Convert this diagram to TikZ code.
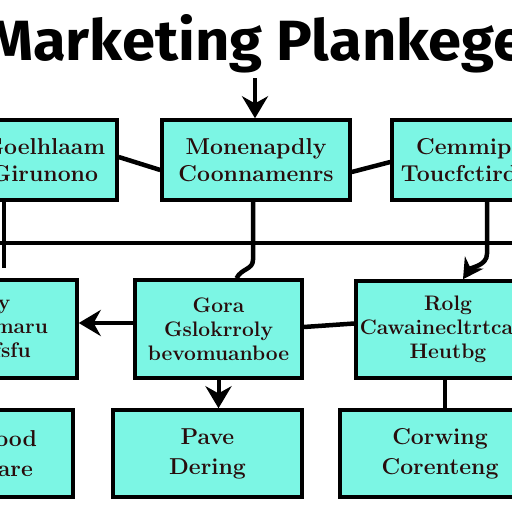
\documentclass[tikz,border=0pt]{standalone}
\usepackage{fontspec}
\usepackage{graphicx}
\newfontfamily\titlefont{Fira Sans}
\usetikzlibrary{arrows.meta}
\definecolor{boxfill}{RGB}{124,246,228}
\definecolor{ink}{RGB}{40,12,12}

\begin{document}
\begin{tikzpicture}[x=1pt,y=-1pt,
  box/.style={draw=black,line width=3.5pt,fill=boxfill,text=ink,align=center,inner sep=0pt,font=\bfseries\fontsize{23}{27}\selectfont},
  link/.style={line width=4.5pt},
  arr/.style={line width=4pt,-{Stealth[length=22pt,width=26pt]}}]
\useasboundingbox (0,0) rectangle (512,512);
\fill[white] (0,0) rectangle (512,512);
\clip (0,0) rectangle (512,512);

\node[anchor=base west,inner sep=0pt] (title) at (-14,60) {\resizebox{540pt}{46pt}{\titlefont\bfseries Marketing Plankege}};

\node[box,minimum width=145pt,minimum height=80pt] (goal) at (44.5,160) {Goelhlaam\\Girunono};
\node[box,minimum width=188pt,minimum height=80pt] (mone) at (256,160) {Monenapdly\\Coonnamenrs};
\node[box,minimum width=158pt,minimum height=80pt] (cemm) at (471,160) {Cemmipp\\Toucfctirdvt};

\node[box,minimum width=146pt,minimum height=98pt,font=\bfseries\fontsize{21}{24}\selectfont] (farm) at (4,329) {y\\Farmaru\\fsfsfu};
\node[box,minimum width=167pt,minimum height=98pt,font=\bfseries\fontsize{21}{24}\selectfont] (gora) at (218.5,329) {Gora\\Gslokrroly\\bevomuanboe};
\node[box,minimum width=184pt,minimum height=97pt,font=\bfseries\fontsize{21}{24}\selectfont] (rolg) at (448,329.5) {Rolg\\Cawainecltrtcaoc\\Heutbg};

\node[box,minimum width=134pt,minimum height=87pt,font=\bfseries\fontsize{23}{30}\selectfont] (good) at (6,453.5) {Good\\Care};
\node[box,minimum width=189pt,minimum height=87pt,font=\bfseries\fontsize{23}{30}\selectfont] (pave) at (207.5,453.5) {Pave\\Dering};
\node[box,minimum width=200pt,minimum height=87pt,font=\bfseries\fontsize{23}{30}\selectfont] (corw) at (440,453.5) {Corwing\\Corenteng};

\coordinate (top) at (255,78);
\draw[arr] (top) -- (mone.north -| top);

\draw[link] ([yshift=3pt]goal.east) -- ([yshift=-10pt]mone.west);
\draw[link] ([yshift=-12pt]mone.east) -- ([yshift=-2pt]cemm.west);

\coordinate (hl) at (-5,243);
\coordinate (hr) at (517,243);
\coordinate (aend) at (4,268);
\draw[link] (hl) -- (hr);
\draw[link] (goal.south -| aend) -- (aend);
\draw[link] ([xshift=-3pt]mone.south) -- ++(0,58) .. controls +(0,10) and +(5,-10) .. ([xshift=18pt]gora.north);
\draw[link,-{Stealth[length=20pt,width=22pt]}] ([xshift=16pt]cemm.south) -- ++(0,52) .. controls +(0,12) and +(8,-12) .. ([xshift=15pt]rolg.north);

\draw[arr] ([yshift=6pt]gora.west) -- ([yshift=6pt]farm.east);
\draw[link] ([yshift=2pt]gora.east) -- ([yshift=6pt]rolg.west);

\draw[arr] (gora.south) -- (gora.south |- pave.north);
\draw[link] ([xshift=-3pt]rolg.south) -- ([xshift=-3pt]rolg.south |- corw.north);
\end{tikzpicture}
\end{document}
